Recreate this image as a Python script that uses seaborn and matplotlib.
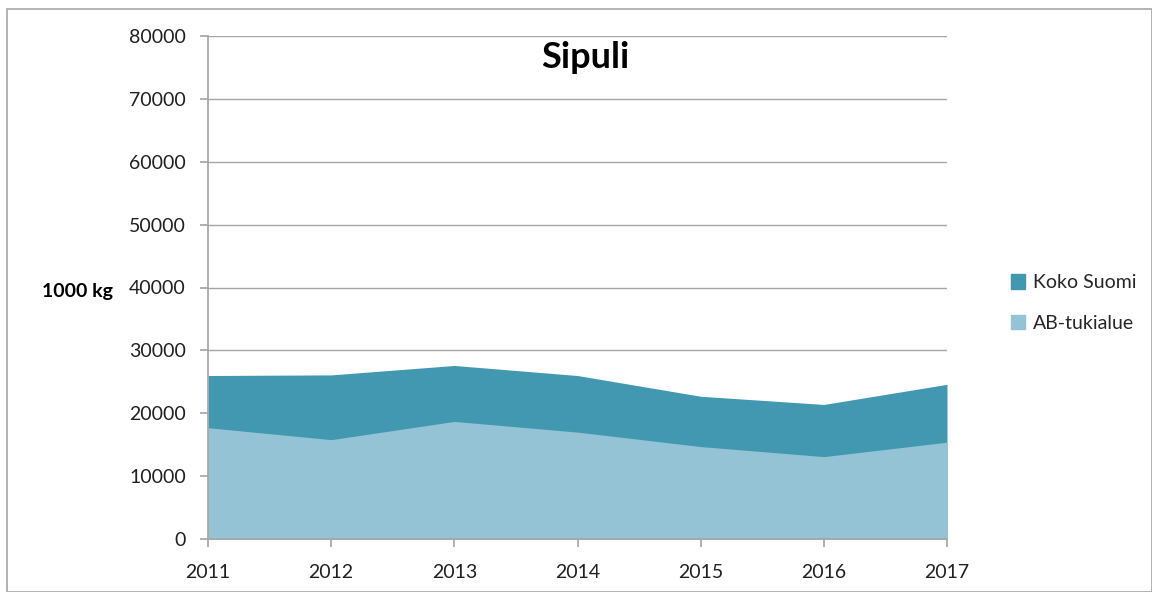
import numpy as np
import pandas as pd
import matplotlib
matplotlib.use("Agg")
import matplotlib.pyplot as plt
import seaborn as sns
from matplotlib.patches import Patch, Rectangle

# Sipuli - tuotanto (1000 kg)
vuodet = [2011, 2012, 2013, 2014, 2015, 2016, 2017]
koko_suomi = [26000, 26100, 27600, 26000, 22700, 21400, 24600]
ab_tukialue = [17700, 15800, 18700, 17000, 14700, 13100, 15400]

df = pd.DataFrame({'vuosi': vuodet, 'Koko Suomi': koko_suomi, 'AB-tukialue': ab_tukialue})

sns.set_theme(style='white')
plt.rcParams['font.family'] = ['Lato', 'DejaVu Sans']

vari_koko = '#4298b0'
vari_ab = '#93c3d5'
harmaa = '#a6a6a6'

fig = plt.figure(figsize=(11.52, 5.92), dpi=100)
ax = fig.add_axes([208 / 1152, 1 - 539 / 592, (947 - 208) / 1152, (539 - 36) / 592])

sns.lineplot(data=df, x='vuosi', y='Koko Suomi', ax=ax, color=vari_koko, linewidth=0)
ax.fill_between(df['vuosi'], df['Koko Suomi'], color=vari_koko, linewidth=0, zorder=2)
ax.fill_between(df['vuosi'], df['AB-tukialue'], color=vari_ab, linewidth=0, zorder=3)

ax.set_xlim(2011, 2017)
ax.set_ylim(0, 80000)
ax.set_yticks(np.arange(0, 80001, 10000))
ax.set_xticks(vuodet)
ax.yaxis.grid(True, color=harmaa, linewidth=1)
ax.set_axisbelow(True)
for s in ['top', 'right']:
    ax.spines[s].set_visible(False)
for s in ['left', 'bottom']:
    ax.spines[s].set_color(harmaa)
    ax.spines[s].set_zorder(5)
ax.tick_params(axis='both', which='both', length=6, color=harmaa, direction='out',
               labelsize=14, labelcolor='#202020', left=True, bottom=True)
ax.tick_params(axis='x', pad=12)
ax.tick_params(axis='y', pad=10)
ax.set_xlabel('')
ax.set_ylabel('')

ax.text(0.511, 0.99, 'Sipuli', transform=ax.transAxes, ha='center', va='top',
        fontsize=26, fontweight='bold', color='black')
fig.text(77 / 1152, 1 - 291 / 592, '1000 kg', ha='center', va='center',
         fontsize=14, fontweight='bold', color='black')

kahvat = [Patch(color=vari_koko, label='Koko Suomi'), Patch(color=vari_ab, label='AB-tukialue')]
fig.legend(handles=kahvat, loc='center left', bbox_to_anchor=(993 / 1152, 1 - 303 / 592),
           frameon=False, fontsize=14, handlelength=0.75, handleheight=0.75,
           handletextpad=0.4, labelspacing=1.2)

# kaavion reunus
fig.patches.append(Rectangle((7 / 1152, 0), 1 - 7 / 1152, 1 - 9 / 592,
                             transform=fig.transFigure, fill=False,
                             edgecolor=harmaa, linewidth=1.2))

fig.savefig('out.png', dpi=100)
